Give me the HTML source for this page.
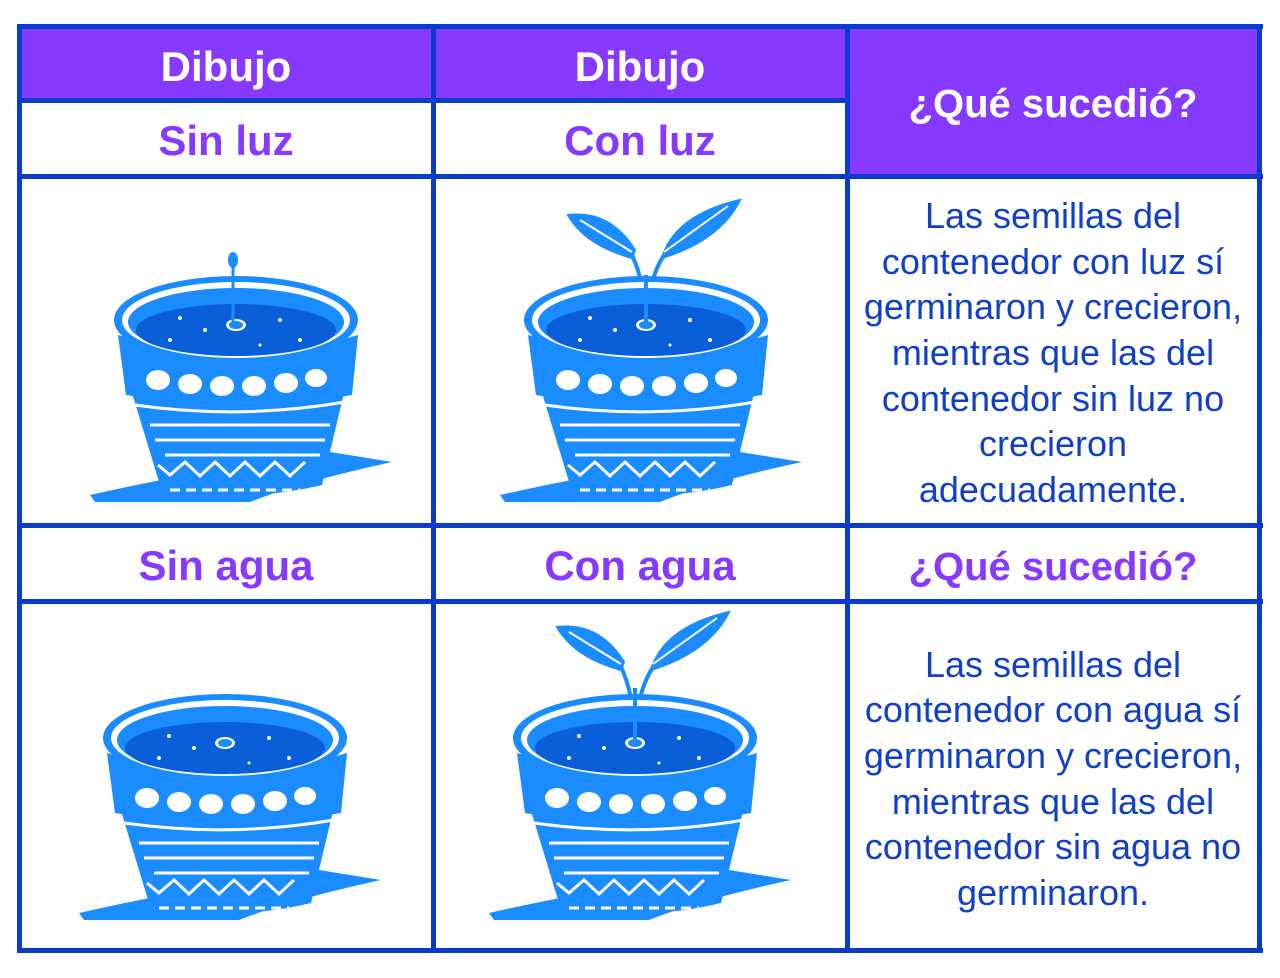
<!DOCTYPE html>
<html><head><meta charset="utf-8"><style>
body{margin:0;background:#fff;width:1280px;height:978px;overflow:hidden}
svg{display:block}
text{font-family:"Liberation Sans",sans-serif}
</style></head><body>
<svg width="1280" height="978" viewBox="0 0 1280 978">
<defs>
<g id="pot">
  <path d="M90 495 Q200 470 330 452 L392 462 Q300 482 250 502 L95 502 Z" fill="#1a8cff"/>
  <path d="M122 360 L352 360 L322 485 Q240 505 160 485 Z" fill="#1a8cff"/>
  <g stroke="#fff" stroke-width="3" fill="none">
    <path d="M135 405 Q240 420 345 402"/>
    <path d="M150 425 L330 425"/>
    <path d="M155 440 L325 440"/>
    <path d="M165 455 L320 455"/>
    <path d="M158 465 L170 475 L185 462 L200 476 L215 462 L230 476 L245 462 L260 476 L275 462 L290 476 L305 462"/>
    <path d="M170 490 L300 490" stroke-dasharray="10 6"/>
  </g>
  <path d="M118 335 Q240 370 358 335 L352 395 Q240 415 126 395 Z" fill="#1a8cff"/>
  <g fill="#fff">
    <ellipse cx="158" cy="380" rx="12" ry="10"/><ellipse cx="190" cy="384" rx="12" ry="10"/>
    <ellipse cx="222" cy="386" rx="12" ry="10"/><ellipse cx="254" cy="386" rx="12" ry="10"/>
    <ellipse cx="286" cy="383" rx="12" ry="10"/><ellipse cx="316" cy="378" rx="11" ry="9"/>
  </g>
  <ellipse cx="236" cy="320" rx="122" ry="44" fill="#1a8cff"/>
  <ellipse cx="236" cy="320" rx="114" ry="38" fill="#fff"/>
  <ellipse cx="236" cy="322" rx="108" ry="34" fill="#1a8cff"/>
  <ellipse cx="236" cy="330" rx="100" ry="26" fill="#0a5fd8"/>
  <g fill="#fff"><circle cx="180" cy="318" r="2"/><circle cx="205" cy="330" r="2"/><circle cx="280" cy="320" r="2"/><circle cx="300" cy="340" r="2"/><circle cx="170" cy="340" r="2"/><circle cx="260" cy="345" r="1.5"/></g>
  <ellipse cx="236" cy="325" rx="10" ry="6" fill="#fff"/>
  <ellipse cx="236" cy="325" rx="7" ry="4" fill="#1a8cff"/>
</g>
<g id="plant" fill="#1a8cff" stroke="#1a8cff">
  <path d="M236 322 Q234 280 222 255" stroke-width="4" fill="none"/>
  <path d="M236 322 Q238 280 254 255" stroke-width="4" fill="none"/>
  <path d="M222 258 Q175 245 158 215 Q200 210 225 250 Z" stroke-width="2"/>
  <path d="M252 258 Q265 215 330 200 Q310 240 252 258 Z" stroke-width="2"/>
  <path d="M222 252 L170 220 M254 252 L318 206" stroke="#fff" stroke-width="2"/>
</g>
</defs>
<rect x="20" y="27" width="1240" height="73" fill="#8639ff"/>
<rect x="848" y="27" width="412" height="150" fill="#8639ff"/>
<g fill="#0a3ccc">
  <rect x="17" y="24" width="1246" height="5"/>
  <rect x="17" y="98" width="831" height="5"/>
  <rect x="17" y="174" width="1246" height="5"/>
  <rect x="17" y="523" width="1246" height="5"/>
  <rect x="17" y="599" width="1246" height="5"/>
  <rect x="17" y="948" width="1246" height="5"/>
  <rect x="17" y="24" width="5" height="929"/>
  <rect x="431" y="24" width="5" height="929"/>
  <rect x="845" y="24" width="5" height="929"/>
  <rect x="1257" y="24" width="5" height="929"/>
</g>
<g font-weight="bold" text-anchor="middle">
  <text x="226" y="81" font-size="42" fill="#fff">Dibujo</text>
  <text x="640" y="81" font-size="42" fill="#fff">Dibujo</text>
  <text x="1053" y="117" font-size="40" fill="#fff">¿Qué sucedió?</text>
  <text x="226" y="155" font-size="42" fill="#8639ff">Sin luz</text>
  <text x="640" y="155" font-size="42" fill="#8639ff">Con luz</text>
  <text x="226" y="580" font-size="42" fill="#8639ff">Sin agua</text>
  <text x="640" y="580" font-size="42" fill="#8639ff">Con agua</text>
  <text x="1053" y="580" font-size="40" fill="#8639ff">¿Qué sucedió?</text>
</g>
<g font-size="36" fill="#1140c8" text-anchor="middle">
  <text x="1053" y="228">Las semillas del</text>
  <text x="1053" y="274">contenedor con luz sí</text>
  <text x="1053" y="319">germinaron y crecieron,</text>
  <text x="1053" y="365">mientras que las del</text>
  <text x="1053" y="411">contenedor sin luz no</text>
  <text x="1053" y="456">crecieron</text>
  <text x="1053" y="502">adecuadamente.</text>
  <text x="1053" y="677">Las semillas del</text>
  <text x="1053" y="722">contenedor con agua sí</text>
  <text x="1053" y="768">germinaron y crecieron,</text>
  <text x="1053" y="814">mientras que las del</text>
  <text x="1053" y="859">contenedor sin agua no</text>
  <text x="1053" y="905">germinaron.</text>
</g>
<use href="#pot"/>
<path d="M233 322 L233 262" stroke="#1a8cff" stroke-width="3"/>
<ellipse cx="233" cy="260" rx="5" ry="8" fill="#1a8cff"/>
<g transform="translate(410,0)"><use href="#plant"/><use href="#pot"/><path d="M236 322 L236 275" stroke="#1a8cff" stroke-width="4"/></g>
<g transform="translate(-11,418)"><use href="#pot"/></g>
<g transform="translate(399,418)"><g transform="translate(0,-6)"><use href="#plant"/></g><use href="#pot"/><path d="M236 322 L236 270" stroke="#1a8cff" stroke-width="4"/></g>
</svg>
</body></html>
